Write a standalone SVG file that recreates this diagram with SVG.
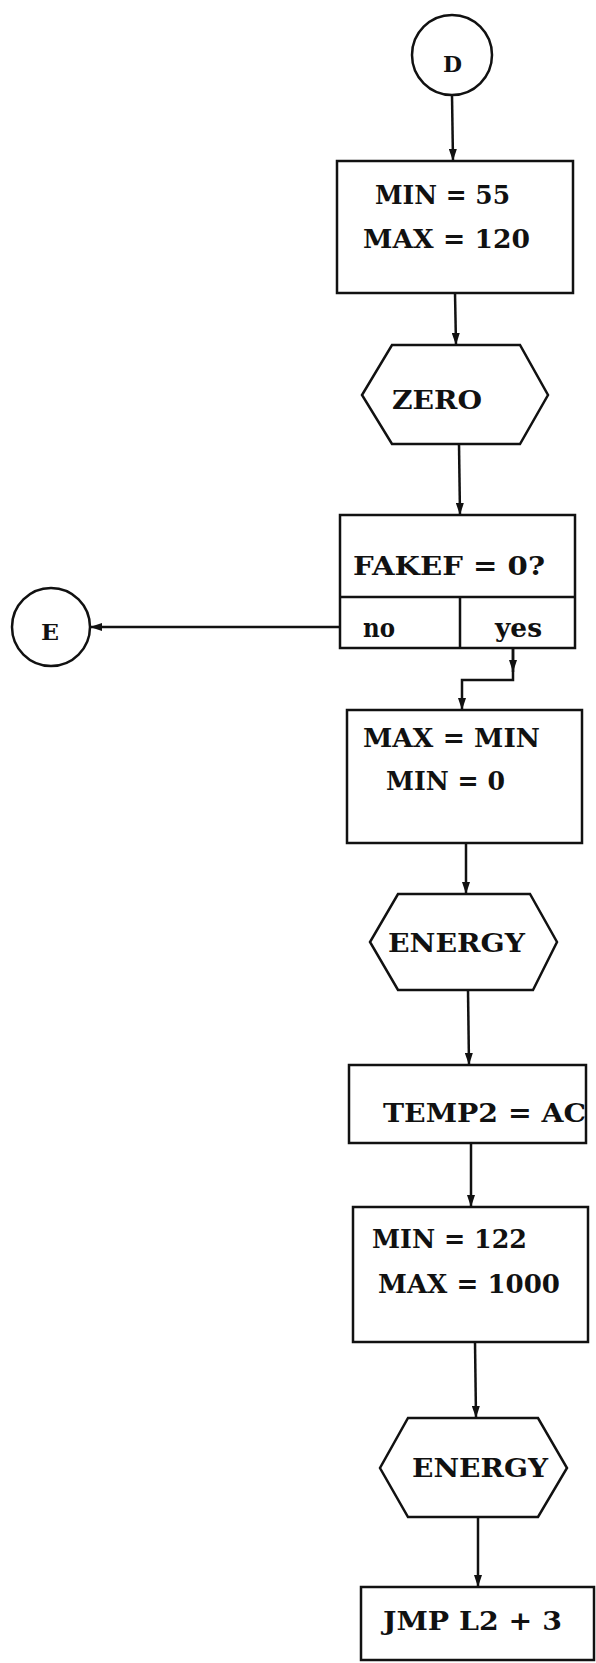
<svg xmlns="http://www.w3.org/2000/svg" width="596" height="1663" viewBox="0 0 596 1663">
<defs>
<style>
.shape{fill:#fff;stroke:#111;stroke-width:2.5}
.conn{fill:none;stroke:#111;stroke-width:2.5}
.t{font-family:"DejaVu Serif","Liberation Serif",serif;font-weight:bold;font-size:26px;fill:#111}
.s{font-family:"DejaVu Serif","Liberation Serif",serif;font-weight:bold;font-size:22px;fill:#111}
</style>
<marker id="ah" viewBox="0 0 12 8" refX="12" refY="4" markerWidth="12" markerHeight="8" markerUnits="userSpaceOnUse" orient="auto">
<path d="M0,0 L12,4 L0,8 Z" fill="#111"/>
</marker>
</defs>
<rect width="596" height="1663" fill="#fff"/>
<g id="connectors">
<path class="conn" d="M452,95 L453,161" marker-end="url(#ah)"/>
<path class="conn" d="M455,293 L456,345" marker-end="url(#ah)"/>
<path class="conn" d="M459,444 L460,515" marker-end="url(#ah)"/>
<path class="conn" d="M340,627 L90,627" marker-end="url(#ah)"/>
<path class="conn" d="M513,648 L513,672" marker-end="url(#ah)"/>
<path class="conn" d="M513,648 L513,680 L462,680 L462,710" marker-end="url(#ah)"/>
<path class="conn" d="M466,843 L466,894" marker-end="url(#ah)"/>
<path class="conn" d="M468,990 L469,1065" marker-end="url(#ah)"/>
<path class="conn" d="M471,1143 L471,1207" marker-end="url(#ah)"/>
<path class="conn" d="M475,1342 L476,1418" marker-end="url(#ah)"/>
<path class="conn" d="M478,1517 L478,1587" marker-end="url(#ah)"/>
</g>
<g id="node-D">
<circle class="shape" cx="452" cy="55" r="40"/>
<text class="s" x="443" y="72" textLength="19" lengthAdjust="spacingAndGlyphs">D</text>
</g>
<g id="node-minmax1">
<rect class="shape" x="337" y="161" width="236" height="132"/>
<text class="t" x="375" y="204" textLength="135" lengthAdjust="spacingAndGlyphs">MIN = 55</text>
<text class="t" x="363" y="248" textLength="167" lengthAdjust="spacingAndGlyphs">MAX = 120</text>
</g>
<g id="node-zero">
<polygon class="shape" points="392,345 520,345 548,395 520,444 392,444 362,395"/>
<text class="t" x="392" y="409" textLength="90" lengthAdjust="spacingAndGlyphs">ZERO</text>
</g>
<g id="node-fakef">
<rect class="shape" x="340" y="515" width="235" height="133"/>
<path class="conn" d="M340,597 L575,597 M460,597 L460,648"/>
<text class="t" x="353" y="575" textLength="192" lengthAdjust="spacingAndGlyphs">FAKEF = 0?</text>
<text class="t" x="363" y="637" textLength="32" lengthAdjust="spacingAndGlyphs">no</text>
<text class="t" x="495" y="637" textLength="47" lengthAdjust="spacingAndGlyphs">yes</text>
</g>
<g id="node-E">
<circle class="shape" cx="51" cy="627" r="39"/>
<text class="s" x="41" y="640" textLength="18" lengthAdjust="spacingAndGlyphs">E</text>
</g>
<g id="node-maxmin">
<rect class="shape" x="347" y="710" width="235" height="133"/>
<text class="t" x="363" y="747" textLength="177" lengthAdjust="spacingAndGlyphs">MAX = MIN</text>
<text class="t" x="386" y="790" textLength="119" lengthAdjust="spacingAndGlyphs">MIN = 0</text>
</g>
<g id="node-energy1">
<polygon class="shape" points="398,894 530,894 557,942 533,990 398,990 370,942"/>
<text class="t" x="388" y="952" textLength="137" lengthAdjust="spacingAndGlyphs">ENERGY</text>
</g>
<g id="node-temp2">
<rect class="shape" x="349" y="1065" width="237" height="78"/>
<text class="t" x="383" y="1122" textLength="203" lengthAdjust="spacingAndGlyphs">TEMP2 = AC</text>
</g>
<g id="node-minmax2">
<rect class="shape" x="353" y="1207" width="235" height="135"/>
<text class="t" x="372" y="1248" textLength="155" lengthAdjust="spacingAndGlyphs">MIN = 122</text>
<text class="t" x="378" y="1293" textLength="182" lengthAdjust="spacingAndGlyphs">MAX = 1000</text>
</g>
<g id="node-energy2">
<polygon class="shape" points="408,1418 538,1418 567,1468 538,1517 408,1517 380,1468"/>
<text class="t" x="412" y="1477" textLength="136" lengthAdjust="spacingAndGlyphs">ENERGY</text>
</g>
<g id="node-jmp">
<rect class="shape" x="361" y="1587" width="233" height="73"/>
<text class="t" x="383" y="1630" textLength="179" lengthAdjust="spacingAndGlyphs">JMP L2 + 3</text>
</g>
</svg>
